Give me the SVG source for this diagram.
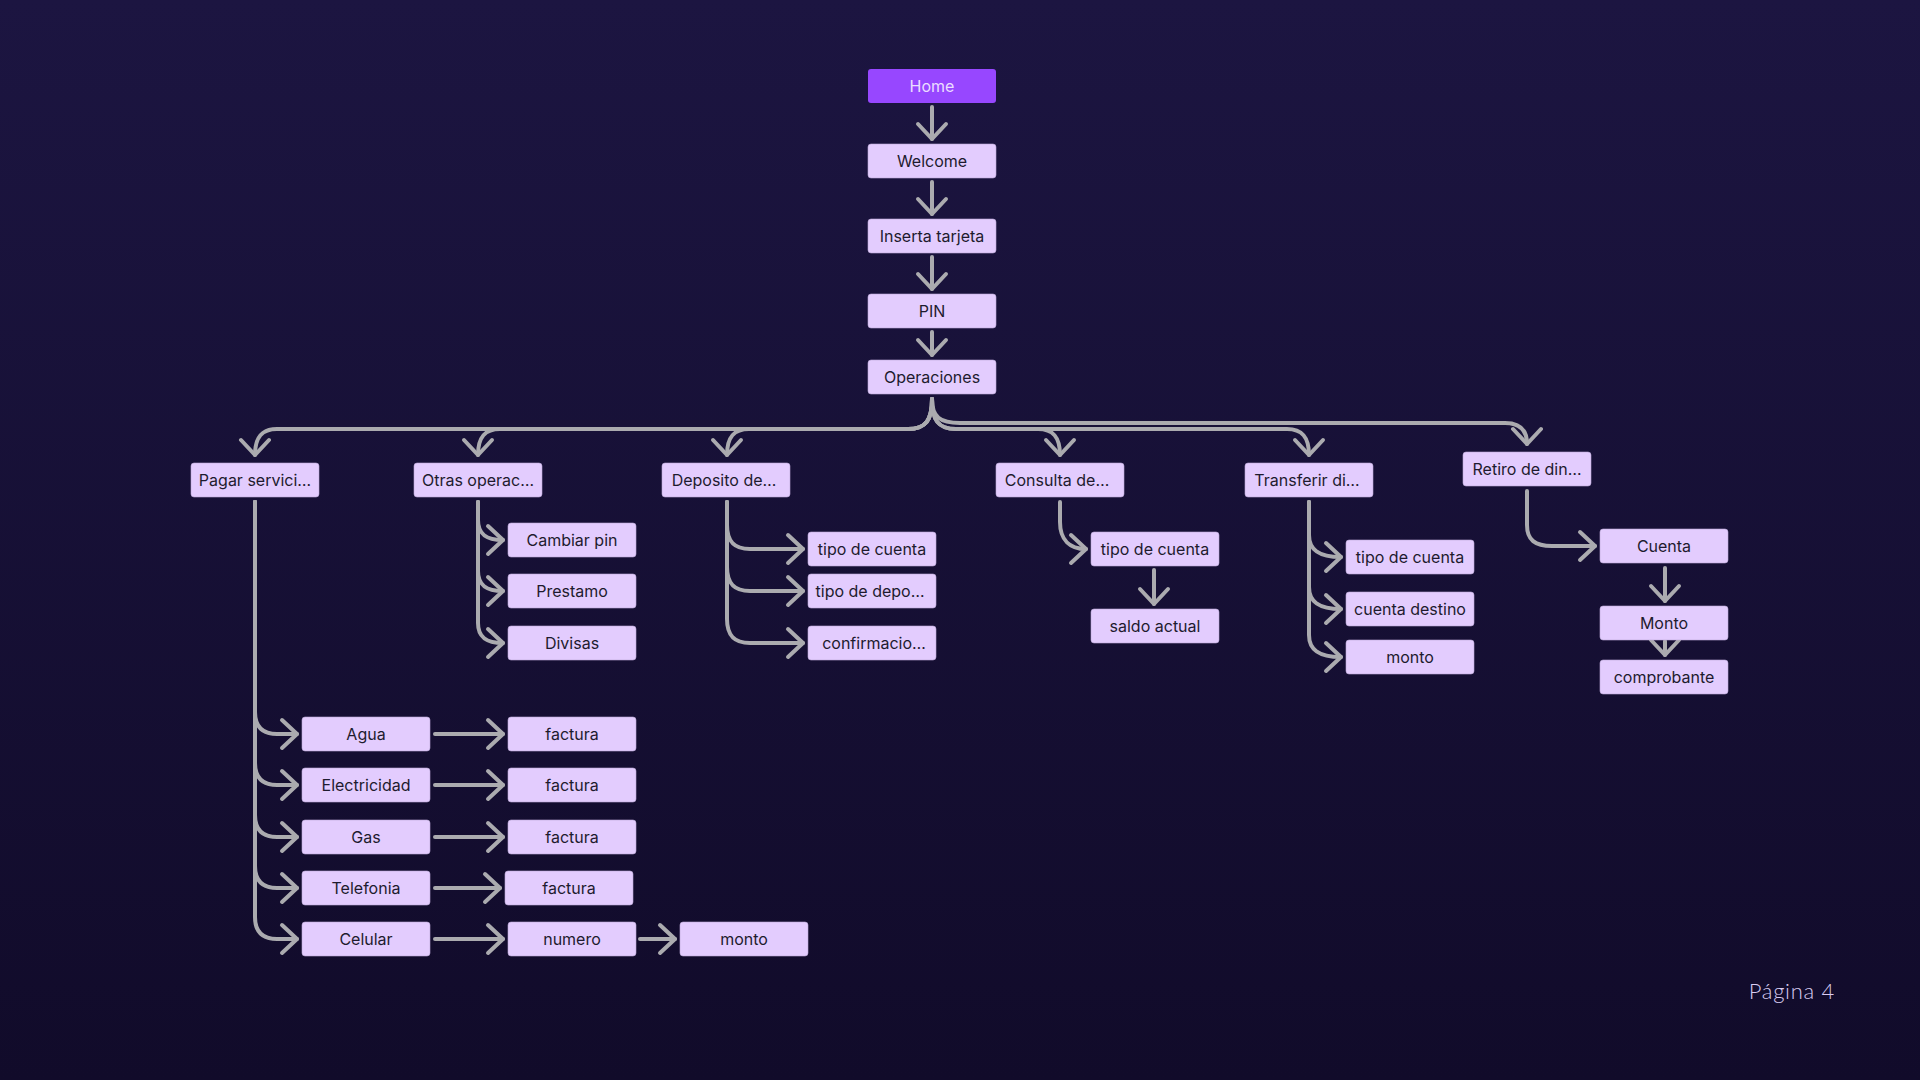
<svg xmlns="http://www.w3.org/2000/svg" width="1920" height="1080" viewBox="0 0 1920 1080">
<defs>
<linearGradient id="bg" x1="0" y1="0" x2="0" y2="1">
<stop offset="0" stop-color="#1C1541"/>
<stop offset="1" stop-color="#110B2A"/>
</linearGradient>
<marker id="ah" markerUnits="userSpaceOnUse" markerWidth="40" markerHeight="40" viewBox="-20 -20 40 40" refX="0" refY="0" orient="auto" overflow="visible">
<path d="M-15,-14 L0,0 L-15,14" fill="none" stroke="#ABABAF" stroke-width="4" stroke-linecap="round" stroke-linejoin="round"/>
</marker>
<style>
.n{fill:#E3CCFE;stroke:#BCA9D6;stroke-width:0.6}
.h{fill:#9747FF;stroke:none}
.t{font-family:Inter,"Liberation Sans",sans-serif;font-size:16px;fill:#1E1B2E;text-anchor:middle;dominant-baseline:central}
.th{fill:#EBDDFF}
.c path{fill:none;stroke:#ABABAF;stroke-width:4;stroke-linecap:round;stroke-linejoin:round;marker-end:url(#ah)}
.pg{font-family:Lato,"Open Sans",sans-serif;font-weight:300;font-size:22px;letter-spacing:0.7px;fill:#D9CCF2;text-anchor:end}
</style>
</defs>
<rect width="1920" height="1080" fill="url(#bg)"/>

<g id="connectors" class="c">
<path d="M932 107 V139"/>
<path d="M932 182 V214"/>
<path d="M932 257 V289"/>
<path d="M932 332 V355"/>
<path d="M932 399 C932 420 926 429 908 429 H277 C262 429 255 437 255 455"/>
<path d="M932 399 C932 420 926 429 908 429 H500 C485 429 478 437 478 455"/>
<path d="M932 399 C932 420 926 429 908 429 H749 C734 429 727 437 727 455"/>
<path d="M932 399 C932 420 938 429 956 429 H1038 C1053 429 1060 437 1060 455"/>
<path d="M932 399 C932 420 938 429 956 429 H1287 C1302 429 1309 437 1309 455"/>
<path d="M932 399 C932 417 940 423 960 423 H1505 C1520 423 1527 430 1527 444"/>
<path d="M255 502 V712 C255 726 262 734 277 734 H297"/>
<path d="M255 502 V763 C255 777 262 785 277 785 H297"/>
<path d="M255 502 V815 C255 829 262 837 277 837 H297"/>
<path d="M255 502 V866 C255 880 262 888 277 888 H297"/>
<path d="M255 502 V917 C255 931 262 939 277 939 H297"/>
<path d="M435 734 H503"/>
<path d="M435 785 H503"/>
<path d="M435 837 H503"/>
<path d="M435 888 H500"/>
<path d="M435 939 H503"/>
<path d="M640 939 H675"/>
<path d="M478 502 V520 C478 534 486 540 503 540"/>
<path d="M478 502 V571 C478 585 486 591 503 591"/>
<path d="M478 502 V623 C478 637 486 643 503 643"/>
<path d="M727 502 V525 C727 541 734 549 750 549 H803"/>
<path d="M727 502 V567 C727 583 734 591 750 591 H803"/>
<path d="M727 502 V619 C727 635 734 643 750 643 H803"/>
<path d="M1060 502 V522 C1060 540 1070 549 1086 549"/>
<path d="M1154 570 V604"/>
<path d="M1309 502 V535 C1309 549 1318 557 1341 557"/>
<path d="M1309 502 V587 C1309 601 1318 609 1341 609"/>
<path d="M1309 502 V635 C1309 649 1318 657 1341 657"/>
<path d="M1527 491 V525 C1527 540 1535 546 1552 546 H1595"/>
<path d="M1665 568 V601"/>
<path d="M1665 641 V655"/>
</g>

<g id="home"><rect class="h" x="868" y="69" width="128" height="34" rx="3"/><text class="t th" x="932" y="86">Home</text></g>
<g id="welcome"><rect class="n" x="868" y="144" width="128" height="34" rx="3"/><text class="t" x="932" y="161">Welcome</text></g>
<g id="inserta"><rect class="n" x="868" y="219" width="128" height="34" rx="3"/><text class="t" x="932" y="236">Inserta tarjeta</text></g>
<g id="pin"><rect class="n" x="868" y="294" width="128" height="34" rx="3"/><text class="t" x="932" y="311">PIN</text></g>
<g id="operaciones"><rect class="n" x="868" y="360" width="128" height="34" rx="3"/><text class="t" x="932" y="377">Operaciones</text></g>

<g id="pagar"><rect class="n" x="191" y="463" width="128" height="34" rx="3"/><text class="t" x="255" y="480">Pagar servici…</text></g>
<g id="otras"><rect class="n" x="414" y="463" width="128" height="34" rx="3"/><text class="t" x="478" y="480">Otras operac…</text></g>
<g id="deposito"><rect class="n" x="662" y="463" width="128" height="34" rx="3"/><text class="t" x="724" y="480">Deposito de…</text></g>
<g id="consulta"><rect class="n" x="996" y="463" width="128" height="34" rx="3"/><text class="t" x="1057" y="480">Consulta de…</text></g>
<g id="transferir"><rect class="n" x="1245" y="463" width="128" height="34" rx="3"/><text class="t" x="1307" y="480">Transferir di…</text></g>
<g id="retiro"><rect class="n" x="1463" y="452" width="128" height="34" rx="3"/><text class="t" x="1527" y="469">Retiro de din…</text></g>

<g id="cambiar-pin"><rect class="n" x="508" y="523" width="128" height="34" rx="3"/><text class="t" x="572" y="540">Cambiar pin</text></g>
<g id="prestamo"><rect class="n" x="508" y="574" width="128" height="34" rx="3"/><text class="t" x="572" y="591">Prestamo</text></g>
<g id="divisas"><rect class="n" x="508" y="626" width="128" height="34" rx="3"/><text class="t" x="572" y="643">Divisas</text></g>

<g id="dep-tipo-cuenta"><rect class="n" x="808" y="532" width="128" height="34" rx="3"/><text class="t" x="872" y="549">tipo de cuenta</text></g>
<g id="dep-tipo-depo"><rect class="n" x="808" y="574" width="128" height="34" rx="3"/><text class="t" x="870" y="591">tipo de depo…</text></g>
<g id="dep-confirmacion"><rect class="n" x="808" y="626" width="128" height="34" rx="3"/><text class="t" x="874" y="643">confirmacio…</text></g>

<g id="con-tipo-cuenta"><rect class="n" x="1091" y="532" width="128" height="34" rx="3"/><text class="t" x="1155" y="549">tipo de cuenta</text></g>
<g id="con-saldo"><rect class="n" x="1091" y="609" width="128" height="34" rx="3"/><text class="t" x="1155" y="626">saldo actual</text></g>

<g id="tr-tipo-cuenta"><rect class="n" x="1346" y="540" width="128" height="34" rx="3"/><text class="t" x="1410" y="557">tipo de cuenta</text></g>
<g id="tr-cuenta-destino"><rect class="n" x="1346" y="592" width="128" height="34" rx="3"/><text class="t" x="1410" y="609">cuenta destino</text></g>
<g id="tr-monto"><rect class="n" x="1346" y="640" width="128" height="34" rx="3"/><text class="t" x="1410" y="657">monto</text></g>

<g id="ret-cuenta"><rect class="n" x="1600" y="529" width="128" height="34" rx="3"/><text class="t" x="1664" y="546">Cuenta</text></g>
<g id="ret-monto"><rect class="n" x="1600" y="606" width="128" height="34" rx="3"/><text class="t" x="1664" y="623">Monto</text></g>
<g id="ret-comprobante"><rect class="n" x="1600" y="660" width="128" height="34" rx="3"/><text class="t" x="1664" y="677">comprobante</text></g>

<g id="agua"><rect class="n" x="302" y="717" width="128" height="34" rx="3"/><text class="t" x="366" y="734">Agua</text></g>
<g id="electricidad"><rect class="n" x="302" y="768" width="128" height="34" rx="3"/><text class="t" x="366" y="785">Electricidad</text></g>
<g id="gas"><rect class="n" x="302" y="820" width="128" height="34" rx="3"/><text class="t" x="366" y="837">Gas</text></g>
<g id="telefonia"><rect class="n" x="302" y="871" width="128" height="34" rx="3"/><text class="t" x="366" y="888">Telefonia</text></g>
<g id="celular"><rect class="n" x="302" y="922" width="128" height="34" rx="3"/><text class="t" x="366" y="939">Celular</text></g>

<g id="factura-agua"><rect class="n" x="508" y="717" width="128" height="34" rx="3"/><text class="t" x="572" y="734">factura</text></g>
<g id="factura-electricidad"><rect class="n" x="508" y="768" width="128" height="34" rx="3"/><text class="t" x="572" y="785">factura</text></g>
<g id="factura-gas"><rect class="n" x="508" y="820" width="128" height="34" rx="3"/><text class="t" x="572" y="837">factura</text></g>
<g id="factura-telefonia"><rect class="n" x="505" y="871" width="128" height="34" rx="3"/><text class="t" x="569" y="888">factura</text></g>
<g id="numero"><rect class="n" x="508" y="922" width="128" height="34" rx="3"/><text class="t" x="572" y="939">numero</text></g>
<g id="monto-celular"><rect class="n" x="680" y="922" width="128" height="34" rx="3"/><text class="t" x="744" y="939">monto</text></g>

<text class="pg" x="1835" y="999">Página 4</text>
</svg>
